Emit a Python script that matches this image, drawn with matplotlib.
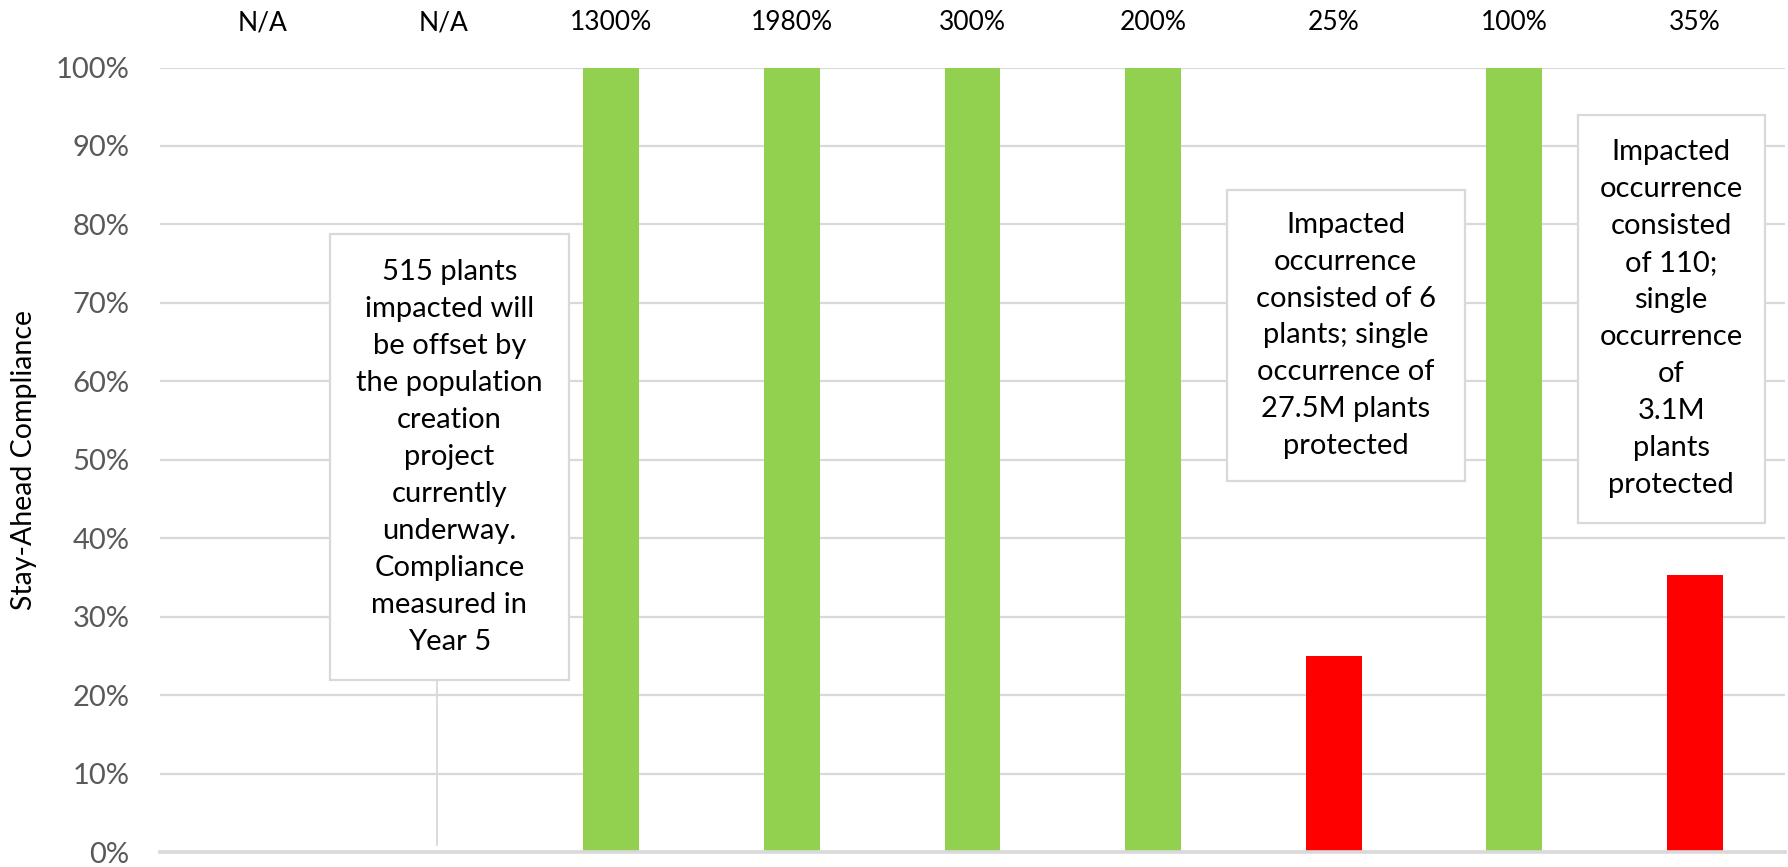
import matplotlib
matplotlib.use("Agg")
import matplotlib.pyplot as plt
from matplotlib.patches import Rectangle

plt.rcParams['font.family'] = ['Lato', 'DejaVu Sans']

# data
categories = ["A", "B", "C", "D", "E", "F", "G", "H", "I"]
compliance = [None, None, 1.00, 1.00, 1.00, 1.00, 0.25, 1.00, 0.353]
top_labels = ["N/A", "N/A", "1300%", "1980%", "300%", "200%", "25%", "100%", "35%"]
yticks = [0, 0.1, 0.2, 0.3, 0.4, 0.5, 0.6, 0.7, 0.8, 0.9, 1.0]

notes = [
    "515 plants\nimpacted will\nbe offset by\nthe population\ncreation\nproject\ncurrently\nunderway.\nCompliance\nmeasured in\nYear 5",
    "Impacted\noccurrence\nconsisted of 6\nplants; single\noccurrence of\n27.5M plants\nprotected",
    "Impacted\noccurrence\nconsisted\nof 110;\nsingle\noccurrence\nof\n3.1M\nplants\nprotected",
]
# box layout: (left, right, bottom, top) in data units
note_boxes = [(0.44, 1.765, 0.219, 0.788),
              (5.408, 6.726, 0.473, 0.844),
              (7.352, 8.387, 0.420, 0.940)]

GREEN = "#92D050"
RED = "#FF0000"
GRID = "#D9D9D9"

fig = plt.figure(figsize=(17.88, 8.67), dpi=100)
ax = fig.add_axes([0.0895, 0.0173, 0.9088, 0.9048])

for i, v in enumerate(compliance):
    if v is None:
        continue
    ax.bar(i, v, width=0.31, color=GREEN if v >= 1.0 else RED, zorder=3)

ax.set_xlim(-0.5, len(categories) - 0.5)
ax.set_ylim(0, 1.0)
ax.set_yticks(yticks)
ax.set_yticklabels([f"{int(round(t * 100))}%" for t in yticks])
ax.tick_params(axis="y", length=0, pad=22, labelsize=21, labelcolor="#595959")
ax.set_xticks([])
ax.grid(axis="y", color=GRID, lw=1.6, zorder=0)
ax.set_axisbelow(True)
for s in ["top", "right", "left"]:
    ax.spines[s].set_visible(False)
ax.spines["bottom"].set_color(GRID)
ax.spines["bottom"].set_linewidth(2.6)
ax.spines["bottom"].set_zorder(4)

ax.set_ylabel("Stay-Ahead Compliance", fontsize=20.5, color="black")
ax.yaxis.set_label_coords(-0.076, 0.5)

for i, lab in enumerate(top_labels):
    dx = 0.07 if lab == "N/A" else 0.0
    ax.text(i + dx, 1.057, lab, ha="center", va="center", fontsize=19,
            color="black", clip_on=False)

# leader line from first note down to the axis
ax.plot([1.036, 1.036], [0.009, note_boxes[0][2]], color=GRID, lw=1.3, zorder=4)

for txt, (l, r, b, t) in zip(notes, note_boxes):
    ax.add_patch(Rectangle((l, b), r - l, t - b, facecolor="white",
                           edgecolor=GRID, lw=1.6, zorder=5))
    ax.text((l + r) / 2, (b + t) / 2, txt, ha="center", va="center",
            fontsize=21, linespacing=1.52, color="black", zorder=6)

fig.savefig("out.png", dpi=100)
